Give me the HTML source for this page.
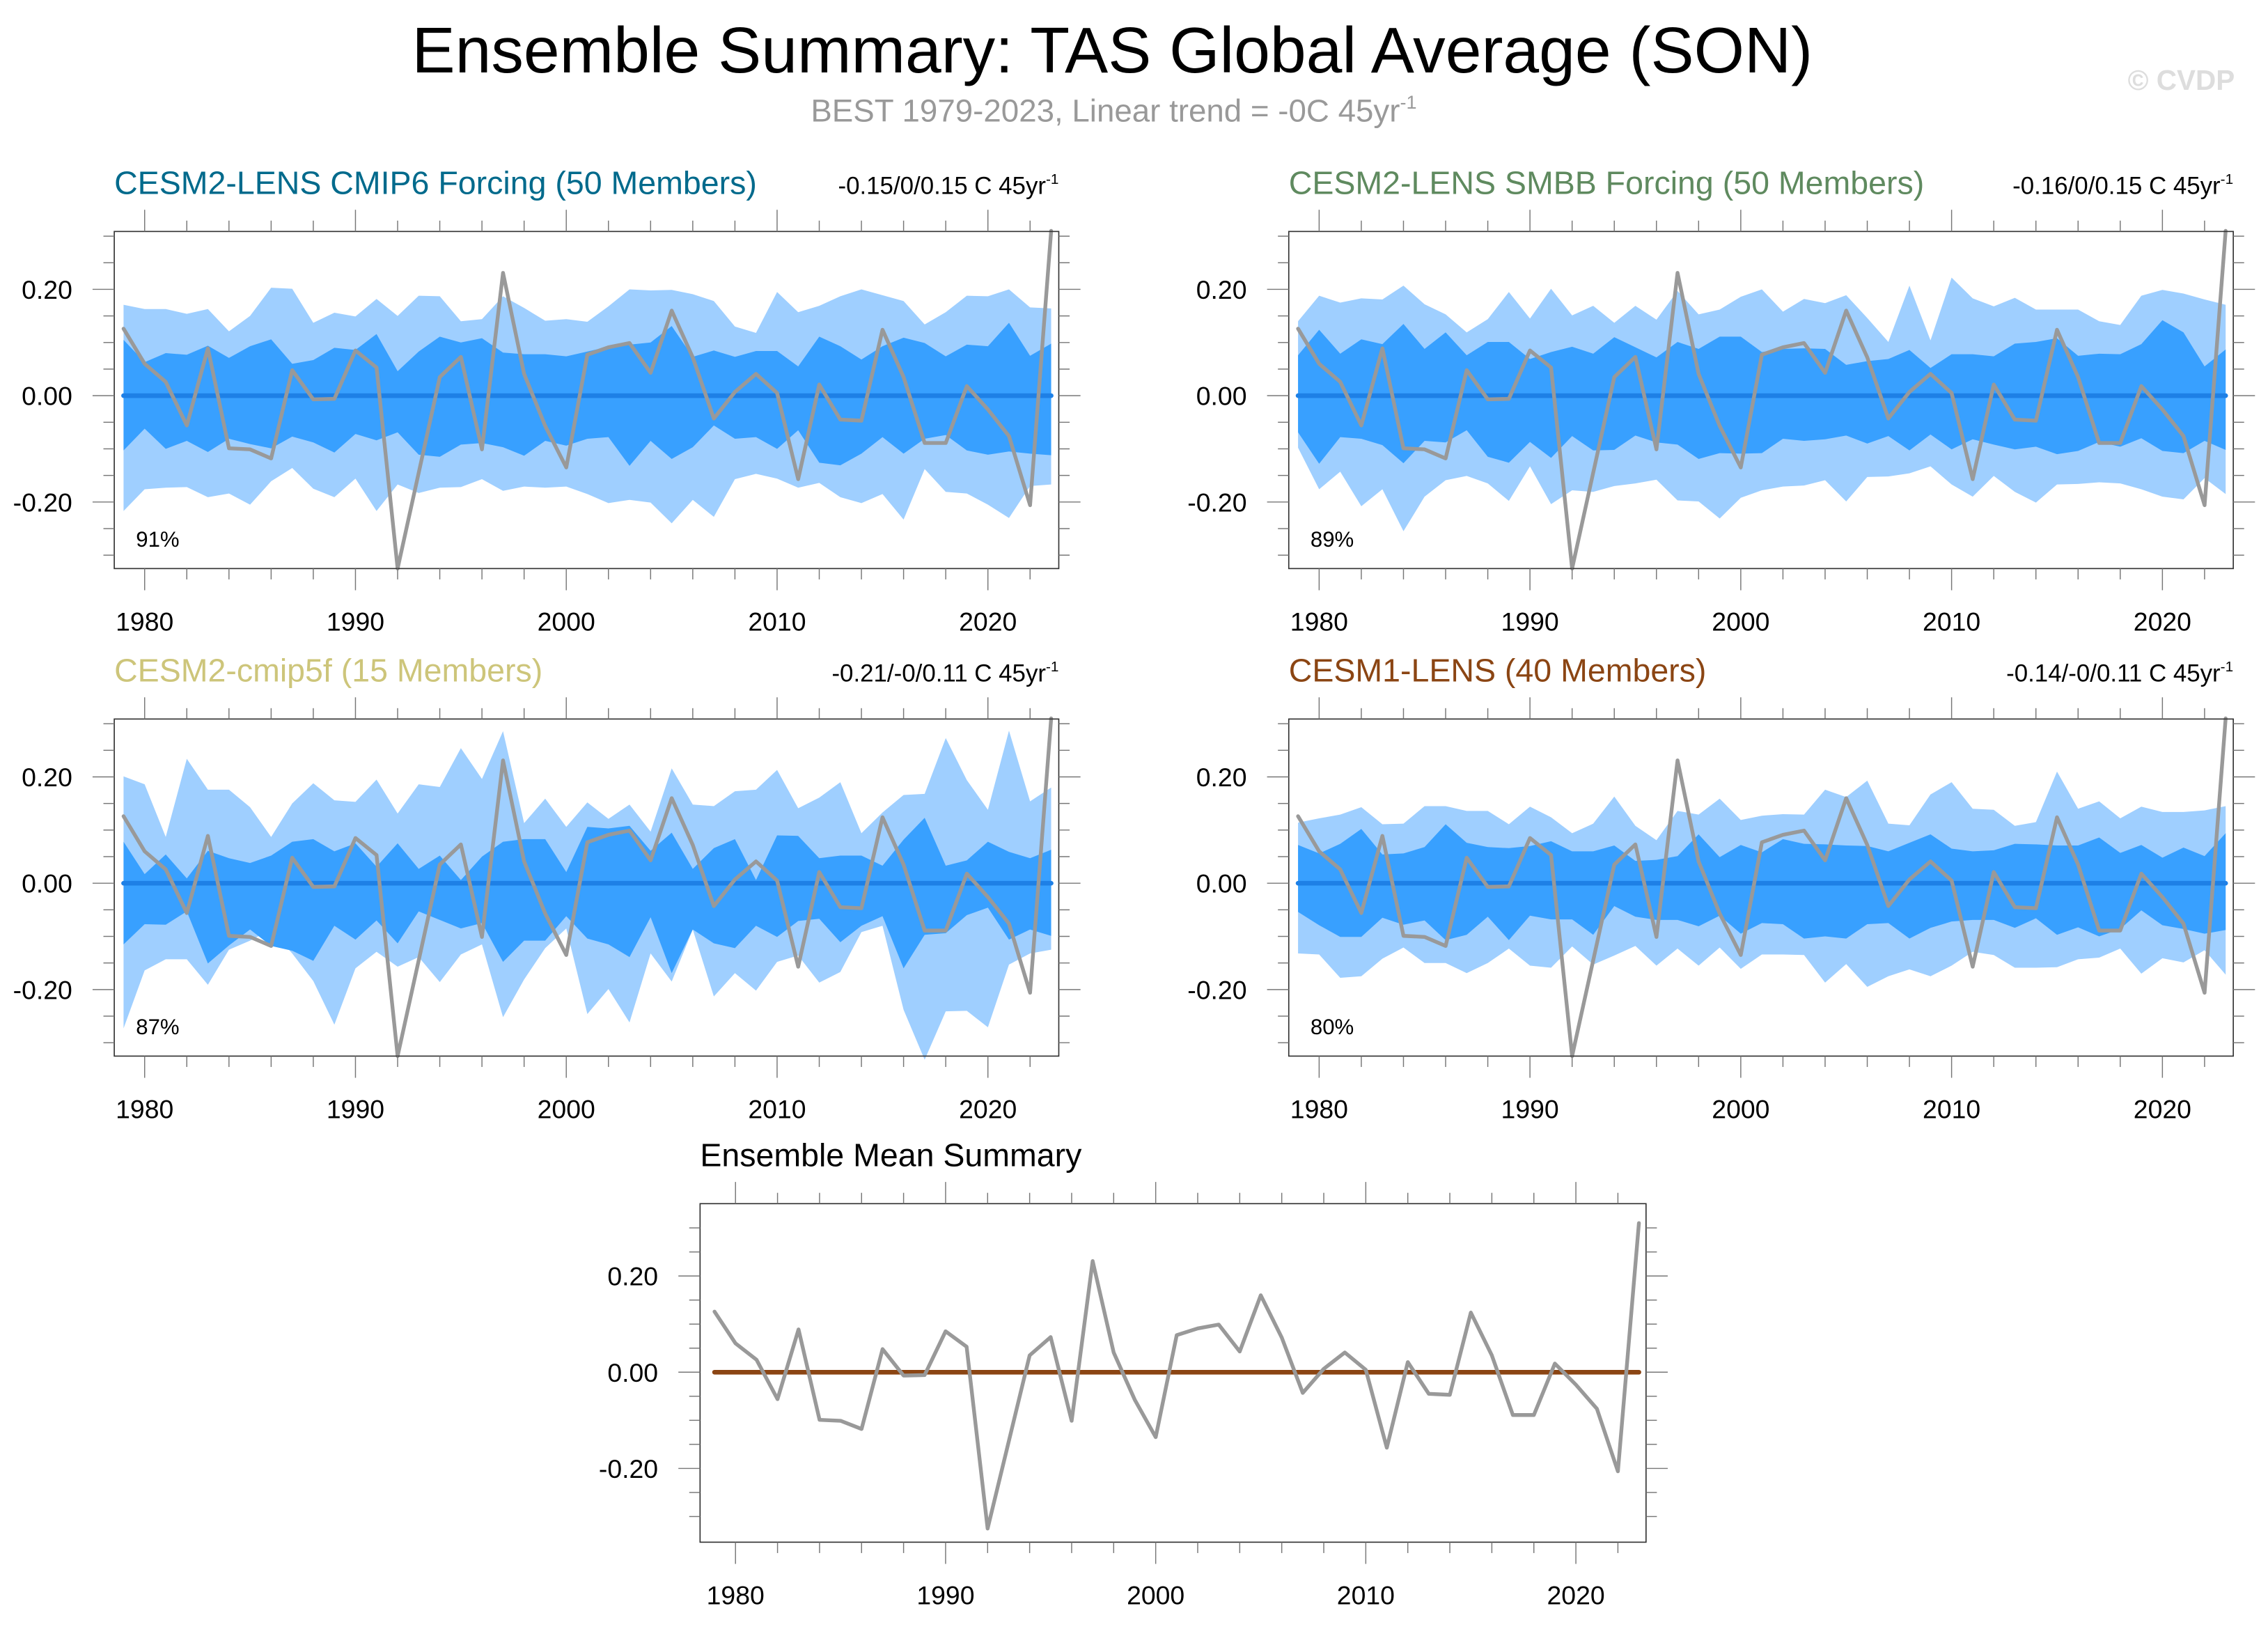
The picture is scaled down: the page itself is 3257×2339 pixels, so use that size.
<!DOCTYPE html>
<html><head><meta charset="utf-8"><style>
html,body{margin:0;padding:0;background:#fff;}
svg{display:block;}
text{font-family:"Liberation Sans",sans-serif;}
</style></head><body>
<svg id="fig" xmlns="http://www.w3.org/2000/svg" width="3257" height="2339" viewBox="0 0 1568 1126" preserveAspectRatio="none">
<text x="769" y="50" font-size="44.8" text-anchor="middle" fill="#000">Ensemble Summary: TAS Global Average (SON)</text>
<text x="770" y="84" font-size="22" text-anchor="middle" fill="#999">BEST 1979-2023, Linear trend = -0C 45yr<tspan font-size="13" dy="-9">-1</tspan></text>
<text x="1545" y="62" font-size="19.5" font-weight="bold" text-anchor="end" fill="#ddd">© CVDP</text>
<g id="panels"></g>
</svg>
<script>
const years = [];
for (let y = 1979; y <= 2023; y++) years.push(y);
const obs = [0.126,0.060,0.026,-0.056,0.089,-0.099,-0.101,-0.118,0.048,-0.007,-0.006,0.085,0.053,-0.325,-0.145,0.035,0.073,-0.101,0.231,0.041,-0.057,-0.135,0.077,0.091,0.099,0.043,0.160,0.072,-0.043,0.007,0.041,0.005,-0.157,0.021,-0.045,-0.047,0.124,0.035,-0.089,-0.089,0.018,-0.026,-0.076,-0.206,0.310];
const ensMean = years.map(() => 0);

const p1OuterHi = [0.171,0.163,0.163,0.154,0.163,0.121,0.150,0.203,0.201,0.137,0.156,0.149,0.182,0.150,0.188,0.187,0.140,0.144,0.187,0.165,0.141,0.144,0.139,0.168,0.200,0.198,0.199,0.191,0.178,0.130,0.118,0.195,0.157,0.169,0.187,0.200,0.189,0.178,0.134,0.157,0.188,0.187,0.200,0.166,0.164];
const p1InnerHi = [0.105,0.063,0.080,0.077,0.094,0.071,0.093,0.106,0.060,0.067,0.090,0.086,0.116,0.046,0.083,0.111,0.100,0.108,0.081,0.078,0.078,0.074,0.083,0.092,0.096,0.100,0.131,0.073,0.085,0.073,0.084,0.084,0.055,0.111,0.093,0.068,0.093,0.109,0.099,0.074,0.096,0.093,0.137,0.075,0.098];
const p1InnerLo = [-0.103,-0.062,-0.100,-0.085,-0.106,-0.081,-0.091,-0.099,-0.077,-0.088,-0.107,-0.072,-0.084,-0.069,-0.111,-0.115,-0.092,-0.089,-0.097,-0.113,-0.085,-0.094,-0.081,-0.078,-0.132,-0.085,-0.119,-0.097,-0.056,-0.081,-0.078,-0.100,-0.065,-0.126,-0.131,-0.109,-0.078,-0.109,-0.081,-0.074,-0.103,-0.111,-0.105,-0.109,-0.112];
const p1OuterLo = [-0.217,-0.176,-0.173,-0.172,-0.191,-0.184,-0.205,-0.161,-0.136,-0.175,-0.191,-0.156,-0.217,-0.167,-0.183,-0.173,-0.172,-0.157,-0.179,-0.171,-0.173,-0.171,-0.185,-0.202,-0.196,-0.201,-0.240,-0.196,-0.228,-0.157,-0.147,-0.156,-0.173,-0.164,-0.191,-0.202,-0.185,-0.233,-0.138,-0.181,-0.184,-0.205,-0.230,-0.170,-0.167];

const p2OuterHi = [0.140,0.188,0.175,0.183,0.181,0.207,0.172,0.153,0.119,0.144,0.195,0.145,0.201,0.151,0.169,0.137,0.169,0.143,0.197,0.153,0.162,0.186,0.200,0.158,0.182,0.174,0.189,0.146,0.101,0.207,0.104,0.222,0.183,0.168,0.184,0.162,0.162,0.162,0.140,0.133,0.188,0.199,0.192,0.181,0.171];
const p2InnerHi = [0.076,0.124,0.079,0.106,0.097,0.135,0.088,0.119,0.076,0.101,0.101,0.069,0.082,0.092,0.079,0.110,0.091,0.072,0.101,0.088,0.111,0.111,0.082,0.088,0.089,0.088,0.058,0.065,0.069,0.086,0.052,0.078,0.078,0.074,0.098,0.101,0.108,0.075,0.079,0.078,0.097,0.142,0.119,0.055,0.087];
const p2InnerLo = [-0.069,-0.128,-0.078,-0.081,-0.093,-0.127,-0.085,-0.088,-0.065,-0.115,-0.126,-0.087,-0.117,-0.076,-0.103,-0.102,-0.075,-0.088,-0.092,-0.119,-0.108,-0.109,-0.108,-0.081,-0.085,-0.082,-0.075,-0.090,-0.076,-0.103,-0.073,-0.101,-0.082,-0.092,-0.101,-0.096,-0.110,-0.104,-0.087,-0.096,-0.080,-0.104,-0.108,-0.085,-0.102];
const p2OuterLo = [-0.098,-0.176,-0.143,-0.208,-0.176,-0.255,-0.190,-0.159,-0.151,-0.165,-0.198,-0.133,-0.204,-0.178,-0.181,-0.170,-0.165,-0.158,-0.197,-0.199,-0.231,-0.192,-0.178,-0.171,-0.169,-0.159,-0.199,-0.153,-0.152,-0.146,-0.133,-0.167,-0.190,-0.151,-0.181,-0.201,-0.167,-0.166,-0.163,-0.165,-0.176,-0.190,-0.195,-0.155,-0.185];

const p3OuterHi = [0.201,0.186,0.087,0.234,0.176,0.176,0.143,0.087,0.150,0.188,0.156,0.153,0.195,0.131,0.186,0.181,0.254,0.196,0.286,0.113,0.159,0.106,0.152,0.121,0.148,0.097,0.216,0.148,0.145,0.173,0.176,0.213,0.141,0.161,0.190,0.094,0.133,0.166,0.168,0.273,0.194,0.138,0.287,0.154,0.180];
const p3InnerHi = [0.078,0.017,0.054,0.009,0.061,0.047,0.038,0.052,0.078,0.083,0.060,0.075,0.031,0.075,0.027,0.052,0.006,0.050,0.078,0.083,0.083,0.021,0.106,0.103,0.108,0.061,0.095,0.027,0.066,0.083,0.006,0.090,0.089,0.047,0.052,0.052,0.033,0.082,0.123,0.033,0.043,0.078,0.059,0.047,0.063];
const p3InnerLo = [-0.115,-0.077,-0.078,-0.053,-0.151,-0.117,-0.087,-0.118,-0.127,-0.146,-0.080,-0.106,-0.070,-0.113,-0.053,-0.069,-0.085,-0.075,-0.148,-0.108,-0.108,-0.062,-0.104,-0.115,-0.139,-0.064,-0.169,-0.087,-0.113,-0.122,-0.080,-0.101,-0.071,-0.067,-0.111,-0.080,-0.062,-0.160,-0.097,-0.094,-0.060,-0.046,-0.106,-0.087,-0.099];
const p3OuterLo = [-0.273,-0.164,-0.143,-0.143,-0.191,-0.125,-0.108,-0.087,-0.132,-0.184,-0.266,-0.160,-0.129,-0.157,-0.139,-0.186,-0.134,-0.115,-0.252,-0.181,-0.122,-0.085,-0.246,-0.199,-0.262,-0.132,-0.185,-0.087,-0.213,-0.169,-0.202,-0.148,-0.136,-0.187,-0.167,-0.092,-0.080,-0.238,-0.332,-0.241,-0.240,-0.271,-0.153,-0.132,-0.125];

const p4OuterHi = [0.114,0.122,0.129,0.143,0.111,0.112,0.145,0.145,0.136,0.136,0.111,0.144,0.124,0.094,0.112,0.163,0.108,0.081,0.136,0.129,0.159,0.119,0.127,0.130,0.129,0.176,0.162,0.193,0.112,0.109,0.167,0.190,0.140,0.138,0.108,0.115,0.210,0.140,0.154,0.122,0.144,0.134,0.134,0.137,0.145];
const p4InnerHi = [0.072,0.056,0.074,0.102,0.054,0.056,0.068,0.111,0.076,0.068,0.066,0.070,0.079,0.060,0.060,0.071,0.042,0.044,0.051,0.092,0.049,0.072,0.058,0.083,0.074,0.073,0.071,0.070,0.060,0.076,0.092,0.065,0.060,0.062,0.074,0.073,0.071,0.071,0.086,0.057,0.072,0.048,0.067,0.051,0.094];
const p4InnerLo = [-0.054,-0.079,-0.101,-0.101,-0.065,-0.078,-0.070,-0.107,-0.097,-0.063,-0.107,-0.061,-0.068,-0.068,-0.097,-0.043,-0.063,-0.069,-0.069,-0.081,-0.061,-0.095,-0.075,-0.077,-0.104,-0.100,-0.104,-0.077,-0.075,-0.104,-0.084,-0.072,-0.069,-0.069,-0.084,-0.066,-0.097,-0.083,-0.100,-0.086,-0.051,-0.079,-0.086,-0.095,-0.088];
const p4OuterLo = [-0.132,-0.134,-0.178,-0.175,-0.142,-0.121,-0.150,-0.150,-0.169,-0.150,-0.123,-0.155,-0.159,-0.119,-0.153,-0.136,-0.118,-0.155,-0.123,-0.155,-0.121,-0.161,-0.134,-0.134,-0.135,-0.187,-0.152,-0.195,-0.175,-0.162,-0.175,-0.155,-0.129,-0.135,-0.159,-0.159,-0.158,-0.143,-0.140,-0.123,-0.170,-0.141,-0.149,-0.126,-0.172];

const yTickLabels = ["-0.20","0.00","0.20"];
const yTickValues = [-0.2,0,0.2];
const xTickLabels = ["1980","1990","2000","2010","2020"];
const xTickValues = [1980,1990,2000,2010,2020];

const NS = "http://www.w3.org/2000/svg";
const root = document.getElementById('panels');
function mk(tag, attrs, parent) {
  const e = document.createElementNS(NS, tag);
  for (const k in attrs) e.setAttribute(k, attrs[k]);
  (parent || root).appendChild(e);
  return e;
}

function drawPanel(cfg) {
  const g = mk('g', {});
  
  
  const L = cfg.x0, R = cfg.x1, T = cfg.y0, B = cfg.y1;
  const xs = yr => cfg.xa + (yr - 1980) * cfg.xs;
  const ys = v => cfg.ya - v * cfg.yv;

  if (cfg.bands) {
    const b = cfg.bands;
    const poly = (hi, lo, fill, nm) => {
      let pts = years.map((yr, i) => xs(yr).toFixed(2) + ',' + ys(hi[i]).toFixed(2));
      for (let i = years.length - 1; i >= 0; i--) pts.push(xs(years[i]).toFixed(2) + ',' + ys(lo[i]).toFixed(2));
      const p = mk('polygon', { points: pts.join(' '), fill: fill }, g);
      
      
    };
    poly(b[0], b[3], '#9fcfff', 'outer-spread-band');
    poly(b[1], b[2], '#38a0ff', 'inner-spread-band');
  }
  const line = (arr, color, w, nm) => {
    const p = mk('polyline', { points: years.map((yr, i) => xs(yr).toFixed(2) + ',' + ys(arr[i]).toFixed(2)).join(' '), fill: 'none', stroke: color, 'stroke-width': w, 'stroke-linejoin': 'round', 'stroke-linecap': 'round' }, g);
    
    
  };
  if (cfg.summary) {
    line(ensMean, '#8b4513', 3.2, 'ensemble-mean-line');
  } else {
    line(ensMean, '#1e80e6', 3.2, 'ensemble-mean-line');
  }
  line(obs, '#999', 2.6, 'observed-line');
  const fr = mk('rect', { x: L, y: T, width: R - L, height: B - T, fill: 'none', stroke: '#333', 'stroke-width': 0.8 }, g);
  
  

  for (let yr = 1980; yr <= 2022; yr += 2) {
    const x = xs(yr);
    const len = yr % 10 === 0 ? 15 : 7.5;
    mk('line', { x1: x, y1: T, x2: x, y2: T - len, stroke: '#777', 'stroke-width': 0.7 }, g);
    mk('line', { x1: x, y1: B, x2: x, y2: B + len, stroke: '#777', 'stroke-width': 0.7 }, g);
  }
  for (let k = -6; k <= 6; k++) {
    const v = k * 0.05;
    const y = ys(v);
    if (y < T - 0.5 || y > B + 0.5) continue;
    const len = k % 4 === 0 ? 15 : 7.5;
    mk('line', { x1: L, y1: y, x2: L - len, y2: y, stroke: '#777', 'stroke-width': 0.7 }, g);
    mk('line', { x1: R, y1: y, x2: R + len, y2: y, stroke: '#777', 'stroke-width': 0.7 }, g);
  }
  xTickValues.forEach((v, i) => {
    const t = mk('text', { x: xs(v), y: B + 43, 'font-size': 18, 'text-anchor': 'middle', fill: '#000' }, g);
    t.textContent = xTickLabels[i];
    
    
  });
  yTickValues.forEach((v, i) => {
    const t = mk('text', { x: L - 29, y: ys(v) + 6.5, 'font-size': 18, 'text-anchor': 'end', fill: '#000' }, g);
    t.textContent = yTickLabels[i];
    
    
  });
  const tt = mk('text', { x: L, y: T - 26, 'font-size': 22.4, fill: cfg.color }, g);
  tt.textContent = cfg.title;
  
  
  if (cfg.trend) {
    const tr = mk('text', { x: R, y: T - 26, 'font-size': 16.8, 'text-anchor': 'end', fill: '#000' }, g);
    tr.innerHTML = cfg.trend + '<tspan font-size="10" dy="-7">-1</tspan>';
    
    
  }
  if (cfg.pct) {
    const pc = mk('text', { x: L + 15, y: B - 15, 'font-size': 15, fill: '#000' }, g);
    pc.textContent = cfg.pct;
    
    
  }
}

const yv1 = 367.5;
drawPanel({ name: 'panel-cesm2-lens-cmip6', x0: 79, x1: 732, y0: 160, y1: 393, xa: 100, xs: 14.575, ya: 273.5, yv: yv1, color: '#006a8c', title: 'CESM2-LENS CMIP6 Forcing (50 Members)', trend: '-0.15/0/0.15 C 45yr', pct: '91%', bands: [p1OuterHi, p1InnerHi, p1InnerLo, p1OuterLo] });
drawPanel({ name: 'panel-cesm2-lens-smbb', x0: 891, x1: 1544, y0: 160, y1: 393, xa: 912, xs: 14.575, ya: 273.5, yv: yv1, color: '#5f8a5f', title: 'CESM2-LENS SMBB Forcing (50 Members)', trend: '-0.16/0/0.15 C 45yr', pct: '89%', bands: [p2OuterHi, p2InnerHi, p2InnerLo, p2OuterLo] });
drawPanel({ name: 'panel-cesm2-cmip5f', x0: 79, x1: 732, y0: 497, y1: 730, xa: 100, xs: 14.575, ya: 610.5, yv: yv1, color: '#cdc57a', title: 'CESM2-cmip5f (15 Members)', trend: '-0.21/-0/0.11 C 45yr', pct: '87%', bands: [p3OuterHi, p3InnerHi, p3InnerLo, p3OuterLo] });
drawPanel({ name: 'panel-cesm1-lens', x0: 891, x1: 1544, y0: 497, y1: 730, xa: 912, xs: 14.575, ya: 610.5, yv: yv1, color: '#8b4513', title: 'CESM1-LENS (40 Members)', trend: '-0.14/-0/0.11 C 45yr', pct: '80%', bands: [p4OuterHi, p4InnerHi, p4InnerLo, p4OuterLo] });
drawPanel({ name: 'panel-ensemble-mean-summary', x0: 484, x1: 1138, y0: 832, y1: 1066, xa: 508.5, xs: 14.525, ya: 948.5, yv: 332.5, color: '#000', title: 'Ensemble Mean Summary', summary: true });
</script>
</body></html>
